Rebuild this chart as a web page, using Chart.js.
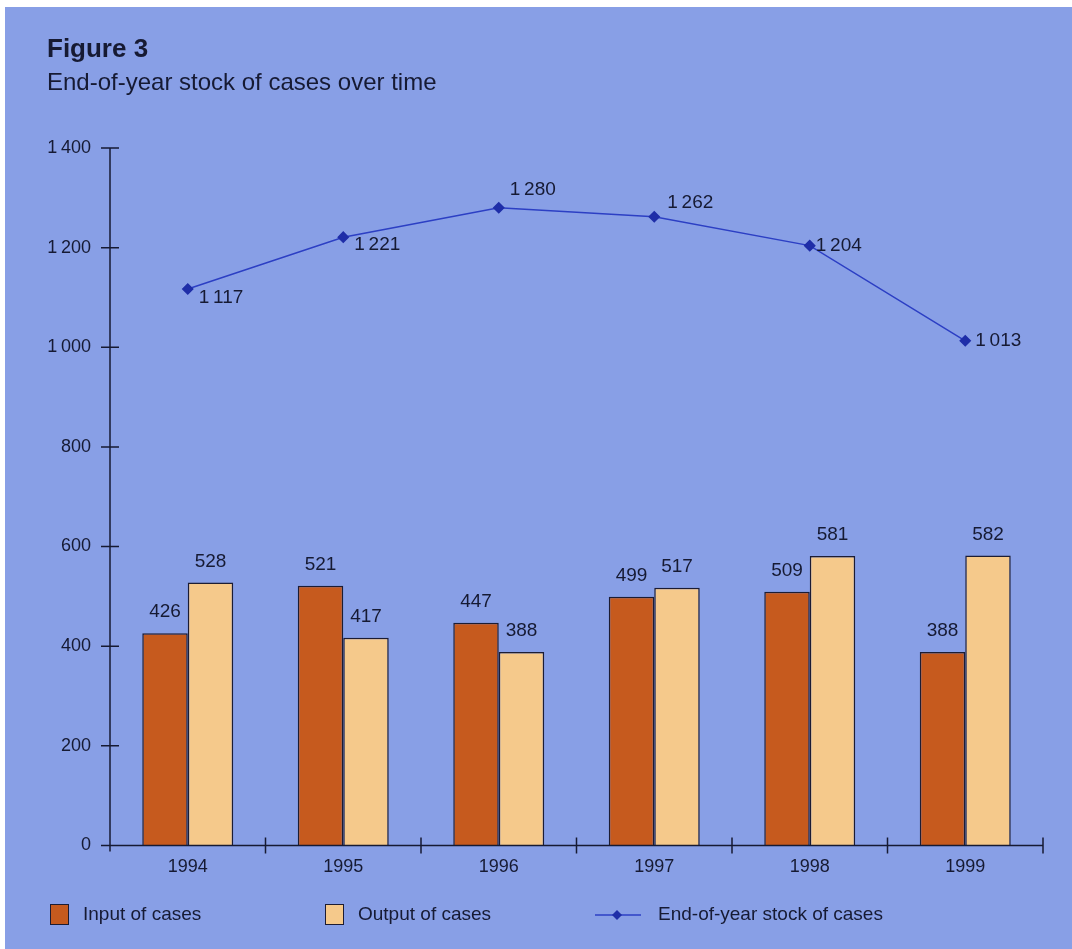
<!DOCTYPE html>
<html>
<head>
<meta charset="utf-8">
<script src="https://cdn.jsdelivr.net/npm/chart.js@4.4.1/dist/chart.umd.min.js"></script>
<style>
  html, body { margin: 0; padding: 0; }
  body {
    width: 1072px; height: 949px; overflow: hidden; position: relative;
    background: #fff; font-family: "Liberation Sans", Arial, sans-serif; color: #161a33;
  }
  #panel { position: absolute; left: 5px; top: 7px; right: 0; bottom: 0; background: #889fe6; }
  #chart { position: absolute; left: 0; top: 0; }
  .title { position: absolute; left: 47px; top: 33px; font-size: 26px; font-weight: bold; }
  .subtitle { position: absolute; left: 47px; top: 68px; font-size: 24px; }
  .legend { position: absolute; top: 902px; font-size: 19px; line-height: 24px; }
  .swatch { position: absolute; top: 904px; width: 17px; height: 19px; border: 1.5px solid #1c1c33; }
</style>
</head>
<body>
<div id="panel"></div>
<canvas id="chart" width="1072" height="949"></canvas>
<div class="title">Figure 3</div>
<div class="subtitle">End-of-year stock of cases over time</div>
<div class="swatch" style="left:50px;background:#c65a1e"></div>
<div class="legend" style="left:83px">Input of cases</div>
<div class="swatch" style="left:325px;background:#f5c98b"></div>
<div class="legend" style="left:358px">Output of cases</div>
<canvas id="legLine" width="50" height="20" style="position:absolute;left:593px;top:905px"></canvas>
<div class="legend" style="left:658px">End-of-year stock of cases</div>
<script>
const years = ['1994', '1995', '1996', '1997', '1998', '1999'];
const inputCases = [426, 521, 447, 499, 509, 388];
const outputCases = [528, 417, 388, 517, 581, 582];
const stockCases = [1117, 1221, 1280, 1262, 1204, 1013];
const yTicks = [0, 200, 400, 600, 800, 1000, 1200, 1400];

// label offsets for the line values, relative to the marker
const stockLabelOffsets = [[11, 9], [11, 8], [11, -18], [13, -14], [6, 0], [10, 0]];

const INK = '#161a33';
const LINE = '#2c3fc4';
const FONT = '"Liberation Sans", Arial, sans-serif';

function fmt(v) {
  const s = String(v);
  return s.length > 3 ? s.slice(0, s.length - 3) + '\u2009' + s.slice(-3) : s;
}

const axesPlugin = {
  id: 'axesPlugin',
  afterDraw(chart) {
    const ctx = chart.ctx;
    const x = chart.scales.x, y = chart.scales.y;
    const area = chart.chartArea;
    ctx.save();
    ctx.strokeStyle = INK;
    ctx.lineWidth = 1.5;
    // axis lines
    ctx.beginPath();
    ctx.moveTo(area.left, area.top);
    ctx.lineTo(area.left, area.bottom + 6);
    ctx.moveTo(area.left - 8, area.bottom);
    ctx.lineTo(area.right, area.bottom);
    // y ticks crossing the axis
    yTicks.forEach(v => {
      const py = y.getPixelForValue(v);
      ctx.moveTo(area.left - 9, py);
      ctx.lineTo(area.left + 9, py);
    });
    // x ticks at category boundaries
    const step = x.getPixelForValue(1) - x.getPixelForValue(0);
    for (let i = 1; i <= years.length; i++) {
      const px = x.getPixelForValue(i) - step / 2;
      ctx.moveTo(px, area.bottom - 8);
      ctx.lineTo(px, area.bottom + 8);
    }
    ctx.stroke();

    // value labels
    ctx.fillStyle = INK;
    ctx.font = '19px ' + FONT;
    ctx.textAlign = 'center';
    ctx.textBaseline = 'middle';
    [0, 1].forEach(di => {
      chart.getDatasetMeta(di).data.forEach((bar, i) => {
        ctx.fillText(fmt(chart.data.datasets[di].data[i]), bar.x, bar.y - 21);
      });
    });
    ctx.textAlign = 'left';
    chart.getDatasetMeta(2).data.forEach((pt, i) => {
      const o = stockLabelOffsets[i];
      ctx.fillText(fmt(stockCases[i]), pt.x + o[0], pt.y + o[1]);
    });
    ctx.restore();
  }
};

new Chart(document.getElementById('chart'), {
  data: {
    labels: years,
    datasets: [
      { type: 'bar', label: 'Input of cases', data: inputCases, backgroundColor: '#c65a1e',
        borderColor: '#1c1c33', borderWidth: 1.5, categoryPercentage: 0.585, barPercentage: 1, order: 2 },
      { type: 'bar', label: 'Output of cases', data: outputCases, backgroundColor: '#f5c98b',
        borderColor: '#1c1c33', borderWidth: 1.5, categoryPercentage: 0.585, barPercentage: 1, order: 2 },
      { type: 'line', label: 'End-of-year stock of cases', data: stockCases, borderColor: LINE,
        borderWidth: 1.5, pointStyle: 'rectRot', pointRadius: 5, pointBackgroundColor: '#1f2ea8',
        pointBorderColor: '#1f2ea8', tension: 0, order: 1 }
    ]
  },
  options: {
    responsive: false,
    animation: false,
    layout: { padding: { top: 148, right: 29, bottom: 68, left: 0 } },
    plugins: { legend: { display: false }, tooltip: { enabled: false } },
    scales: {
      x: {
        offset: true,
        grid: { display: false },
        border: { display: false },
        ticks: { color: INK, font: { size: 18, family: FONT }, padding: 3, maxRotation: 0, autoSkip: false }
      },
      y: {
        min: 0, max: 1400,
        afterFit(scale) { scale.width = 110; },
        afterBuildTicks(scale) { scale.ticks = yTicks.map(v => ({ value: v })); },
        grid: { display: false, drawTicks: false },
        border: { display: false },
        ticks: { color: INK, font: { size: 18, family: FONT }, padding: 19, callback: v => fmt(v) }
      }
    }
  },
  plugins: [axesPlugin]
});

// legend line sample
const lc = document.getElementById('legLine').getContext('2d');
lc.strokeStyle = LINE; lc.lineWidth = 1.5;
lc.beginPath(); lc.moveTo(2, 10); lc.lineTo(48, 10); lc.stroke();
lc.fillStyle = '#1f2ea8';
lc.beginPath(); lc.moveTo(24, 5); lc.lineTo(29, 10); lc.lineTo(24, 15); lc.lineTo(19, 10); lc.closePath(); lc.fill();
</script>
</body>
</html>
